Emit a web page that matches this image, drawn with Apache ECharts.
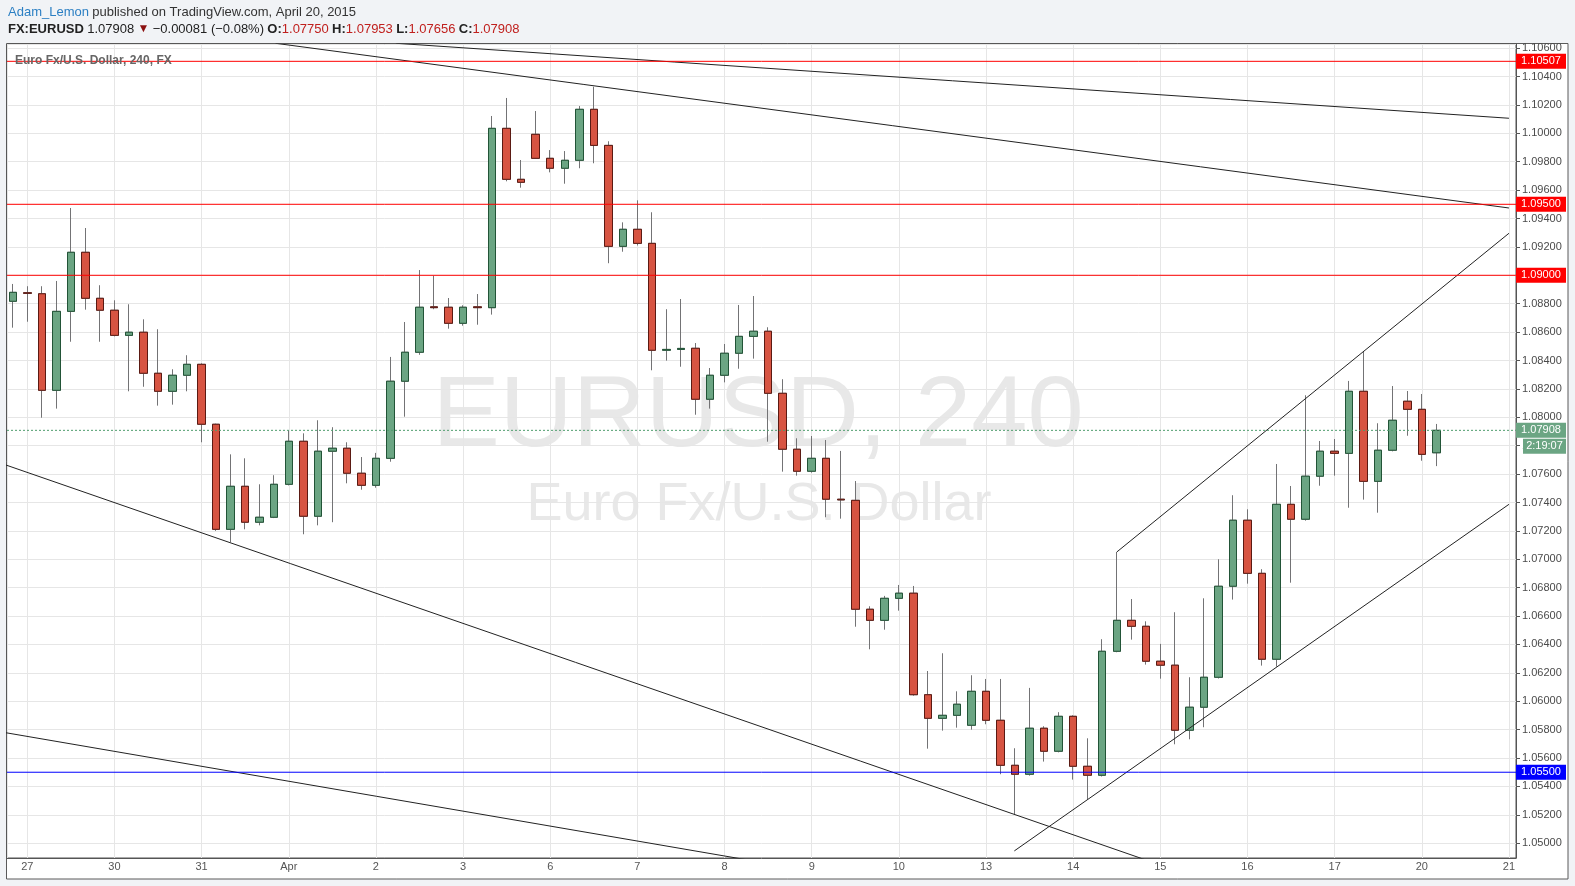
<!DOCTYPE html>
<html><head><meta charset="utf-8">
<script src="https://cdn.jsdelivr.net/npm/echarts@6/dist/echarts.min.js"></script>
<style>html,body{margin:0;padding:0;background:#f1f3f6;}#c{width:1575px;height:886px;}</style>
</head><body><div id="c"></div>
<script>
// ---- data ----
const dayLabels = ['27','30','31','Apr','2','3','6','7','8','9','10','13','14','15','16','17','20','21'];
const barsPerDay = 6;          // 4h bars per day
const firstBar = -1;           // bar number of first candle (0 = 27 Mar 00:00)
const opens  = [1.08817,1.08877,1.08870,1.08190,1.08746,1.09162,1.08838,1.08754,1.08577,1.08599,1.08310,1.08183,1.08296,1.08373,1.07951,1.07211,1.07514,1.07261,1.07296,1.07528,1.07831,1.07303,1.07761,1.07782,1.07606,1.07521,1.07711,1.08254,1.08458,1.08778,1.08775,1.08662,1.08778,1.08772,1.10035,1.09676,1.09993,1.09824,1.09754,1.09810,1.10169,1.09915,1.09204,1.09324,1.09225,1.08472,1.08478,1.08486,1.08127,1.08296,1.08451,1.08570,1.08606,1.08169,1.07775,1.07620,1.07711,1.07423,1.07415,1.06648,1.06570,1.06725,1.06761,1.06046,1.05880,1.05901,1.05831,1.06070,1.05866,1.05549,1.05486,1.05810,1.05648,1.05894,1.05542,1.05479,1.06352,1.06570,1.06528,1.06282,1.06254,1.05796,1.05958,1.06169,1.06810,1.07275,1.06901,1.06296,1.07387,1.07282,1.07585,1.07761,1.07746,1.08183,1.07549,1.07768,1.08113,1.08056,1.07750];
const closes = [1.08880,1.08873,1.08190,1.08746,1.09162,1.08838,1.08754,1.08577,1.08599,1.08310,1.08183,1.08296,1.08373,1.07951,1.07211,1.07514,1.07261,1.07296,1.07528,1.07831,1.07303,1.07761,1.07782,1.07606,1.07521,1.07711,1.08254,1.08458,1.08775,1.08772,1.08662,1.08775,1.08772,1.10035,1.09676,1.09655,1.09824,1.09754,1.09810,1.10169,1.09915,1.09204,1.09324,1.09225,1.08472,1.08478,1.08485,1.08127,1.08296,1.08451,1.08570,1.08606,1.08169,1.07775,1.07620,1.07711,1.07423,1.07418,1.06648,1.06570,1.06725,1.06761,1.06046,1.05880,1.05901,1.05979,1.06070,1.05866,1.05549,1.05486,1.05810,1.05648,1.05894,1.05542,1.05479,1.06352,1.06570,1.06528,1.06282,1.06254,1.05796,1.05958,1.06169,1.06810,1.07275,1.06901,1.06296,1.07387,1.07282,1.07585,1.07761,1.07746,1.08183,1.07549,1.07768,1.07979,1.08056,1.07739,1.07908];
const lows   = [1.08631,1.08673,1.07997,1.08061,1.08532,1.08758,1.08532,1.08570,1.08183,1.08215,1.08082,1.08089,1.08183,1.07824,1.07200,1.07120,1.07211,1.07239,1.07290,1.07520,1.07176,1.07239,1.07261,1.07535,1.07490,1.07504,1.07687,1.08004,1.08440,1.08761,1.08624,1.08645,1.08652,1.08723,1.09662,1.09617,1.09820,1.09725,1.09645,1.09754,1.09789,1.09085,1.09166,1.09210,1.08331,1.08399,1.08356,1.08018,1.08061,1.08246,1.08342,1.08413,1.07828,1.07617,1.07589,1.07610,1.07296,1.07286,1.06525,1.06366,1.06504,1.06638,1.06039,1.05666,1.05793,1.05814,1.05800,1.05838,1.05486,1.05204,1.05476,1.05575,1.05640,1.05448,1.05310,1.05470,1.06345,1.06434,1.06258,1.06159,1.05697,1.05732,1.05817,1.06160,1.06716,1.06828,1.06251,1.06244,1.06835,1.07272,1.07518,1.07589,1.07363,1.07420,1.07328,1.07760,1.07870,1.07694,1.07656];
const highs  = [1.08939,1.08923,1.08923,1.08960,1.09474,1.09333,1.08930,1.08824,1.08796,1.08690,1.08620,1.08338,1.08437,1.08380,1.07955,1.07739,1.07711,1.07528,1.07592,1.07908,1.07887,1.07979,1.07930,1.07824,1.07720,1.07749,1.08425,1.08671,1.09037,1.08997,1.08840,1.08789,1.08868,1.10122,1.10249,1.09812,1.10157,1.09882,1.09875,1.10192,1.10328,1.09944,1.09373,1.09528,1.09444,1.08761,1.08833,1.08523,1.08347,1.08516,1.08791,1.08854,1.08634,1.08268,1.07852,1.07868,1.07840,1.07763,1.07551,1.06669,1.06742,1.06819,1.06812,1.06213,1.06338,1.06070,1.06183,1.06157,1.06157,1.05669,1.06094,1.05824,1.05923,1.05901,1.05739,1.06437,1.07051,1.06720,1.06563,1.06404,1.06627,1.06169,1.06725,1.07000,1.07451,1.07352,1.06930,1.07671,1.07516,1.08155,1.07833,1.07847,1.08256,1.08467,1.07958,1.08220,1.08185,1.08164,1.07953];
const priceStep = 0.002;
const redLevels = [1.10507, 1.09500, 1.09000];
const blueLevels = [1.05500];
const lastPrice = 1.07908;
const countdown = '2:19:07';
// trend lines drawn on the chart, as [bar number, price] anchors
const trendLines = [
  [[25.38, 1.10634], [102, 1.10106]],
  [[17.09, 1.10634], [102, 1.09474]],
  [[-3, 1.07718], [80, 1.04776]],
  [[-3, 1.05805], [52, 1.04840]],
  [[75, 1.07051], [102, 1.09296]],
  [[67.95, 1.04946], [102, 1.07387]]
];
const xRange = [-1.3975, 102.485];
const yRange = [1.04896, 1.10629];

// ---- build ----
const FONT = '"Liberation Sans", Arial, sans-serif';
const barNo = opens.map((_, i) => firstBar + i);
const ohlc = barNo.map((x, i) => [x, opens[i], closes[i], lows[i], highs[i]]);
const bodies = barNo.map((x, i) => [x, opens[i], closes[i], Math.min(opens[i], closes[i]), Math.max(opens[i], closes[i])]);

const chart = echarts.init(document.getElementById('c'));

const baseGraphic = [
  {id:'panel', type:'rect', z:-10, silent:true, shape:{x:6.5, y:43.5, width:1561.5, height:835.5}, style:{fill:'#ffffff', stroke:'#5a5a5a', lineWidth:1}},
  {id:'wm1', type:'text', z:-9, silent:true, style:{text:'EURUSD, 240', x:758, y:418, textAlign:'center', textVerticalAlign:'middle', align:'center', verticalAlign:'middle', font:'101px ' + FONT, fill:'#e8e8e8'}},
  {id:'wm2', type:'text', z:-9, silent:true, style:{text:'Euro Fx/U.S. Dollar', x:759, y:505, textAlign:'center', textVerticalAlign:'middle', align:'center', verticalAlign:'middle', font:'54px ' + FONT, fill:'#e8e8e8'}},
  {id:'sym', type:'text', z:50, silent:true, style:{text:'Euro Fx/U.S. Dollar, 240, FX', x:15, y:61, textVerticalAlign:'middle', verticalAlign:'middle', font:'bold 12px ' + FONT, fill:'#666666'}},
  {id:'h1', type:'text', z:50, silent:true, style:{x:8, y:12, textVerticalAlign:'middle', verticalAlign:'middle',
     text:'{a|Adam_Lemon} {b|published on TradingView.com, April 20, 2015}',
     rich:{a:{fill:'#2b7fc3', color:'#2b7fc3', font:'13px ' + FONT}, b:{fill:'#333', color:'#333', font:'13px ' + FONT}}}},
  {id:'h2', type:'text', z:50, silent:true, style:{x:8, y:29, textVerticalAlign:'middle', verticalAlign:'middle',
     text:'{k|FX:EURUSD} {n|' + lastPrice.toFixed(5) + '} {t|▼} {n|−0.00081 (−0.08%)} {k|O:}{r|1.07750} {k|H:}{r|1.07953} {k|L:}{r|1.07656} {k|C:}{r|1.07908}',
     rich:{k:{font:'bold 13px ' + FONT, fill:'#222', color:'#222'}, n:{font:'13px ' + FONT, fill:'#222', color:'#222'}, t:{font:'12px ' + FONT, fill:'#8b1010', color:'#8b1010'}, r:{font:'13px ' + FONT, fill:'#c0201e', color:'#c0201e'}}}}
];

const series = [
  {type:'candlestick', name:'wicks', data: ohlc, barWidth: 8, z: 2,
   itemStyle:{color:'#6ba583', color0:'#d75442', borderColor:'#737375', borderColor0:'#737375', borderWidth:1}},
  {type:'candlestick', name:'bodies', data: bodies, barWidth: 8, z: 3,
   itemStyle:{color:'#6ba583', color0:'#d75442', borderColor:'#225437', borderColor0:'#5b1a13', borderWidth:1}}
];
trendLines.forEach(seg => series.push({type:'line', data: seg, symbol:'none', z:5, clip:true, silent:true,
   lineStyle:{color:'#222', width:1}}));
function level(v, color, type) {
  series.push({type:'line', data:[[xRange[0], v], [xRange[1], v]], symbol:'none', z:6, clip:true, silent:true,
    lineStyle:{color:color, width:1, type:type}});
}
redLevels.forEach(v => level(v, '#ff0000', 'solid'));
blueLevels.forEach(v => level(v, '#0000ff', 'solid'));
level(lastPrice, '#4f9d6e', [2, 2]);

chart.setOption({
  backgroundColor:'#f1f3f6',
  animation:false,
  grid:{left:7, top:44, right:59, bottom:28, show:true, borderColor:'#555', borderWidth:1, outerBoundsMode:'none'},
  xAxis:{type:'value', min:xRange[0], max:xRange[1], splitNumber:17, minInterval:barsPerDay, maxInterval:barsPerDay,
    axisLine:{show:true, onZero:false, lineStyle:{color:'#555'}}, axisTick:{show:false},
    axisLabel:{color:'#555', fontSize:11, fontFamily:FONT, margin:3, showMinLabel:false, showMaxLabel:false,
      formatter: v => { const d = v / barsPerDay; return Math.abs(d - Math.round(d)) < 1e-6 ? (dayLabels[Math.round(d)] || '') : ''; }},
    splitLine:{show:true, lineStyle:{color:'#e6e6e6', width:1}}},
  yAxis:{type:'value', position:'right', min:yRange[0], max:yRange[1], splitNumber:28, minInterval:priceStep, maxInterval:priceStep, scale:true,
    axisLine:{show:true, onZero:false, lineStyle:{color:'#555'}}, axisTick:{show:true, length:4, lineStyle:{color:'#555'}},
    axisLabel:{color:'#4a4a4a', fontSize:11, fontFamily:FONT, margin:6, showMinLabel:false, showMaxLabel:false,
      formatter: v => v.toFixed(5)},
    splitLine:{show:true, lineStyle:{color:'#e6e6e6', width:1}}},
  graphic: baseGraphic,
  series: series
});

// price boxes on the price scale, placed through the axis scale
const gx = chart.convertToPixel({xAxisIndex:0}, xRange[1]);
const boxes = [];
function box(id, v, fill, text, dy, x0, w) {
  const py = chart.convertToPixel({yAxisIndex:0}, v) + dy;
  boxes.push({id:id + 'r', type:'rect', z:60, silent:true, shape:{x:x0, y:py - 7.5, width:w, height:15}, style:{fill:fill}});
  boxes.push({id:id + 't', type:'text', z:61, silent:true, style:{text:text, x:x0 + w / 2, y:py, textAlign:'center', textVerticalAlign:'middle', align:'center', verticalAlign:'middle', font:'11px ' + FONT, fill:'#ffffff'}});
}
redLevels.forEach((v, i) => box('red' + i, v, '#ff0000', v.toFixed(5), 0, gx, 50));
blueLevels.forEach((v, i) => box('blue' + i, v, '#0000ff', v.toFixed(5), 0, gx, 50));
box('last', lastPrice, '#6ba583', lastPrice.toFixed(5), 0, gx, 50);
box('cd', lastPrice, '#6ba583', countdown, 16, gx + 7, 43);
chart.setOption({graphic: baseGraphic.concat(boxes)});
</script></body></html>
